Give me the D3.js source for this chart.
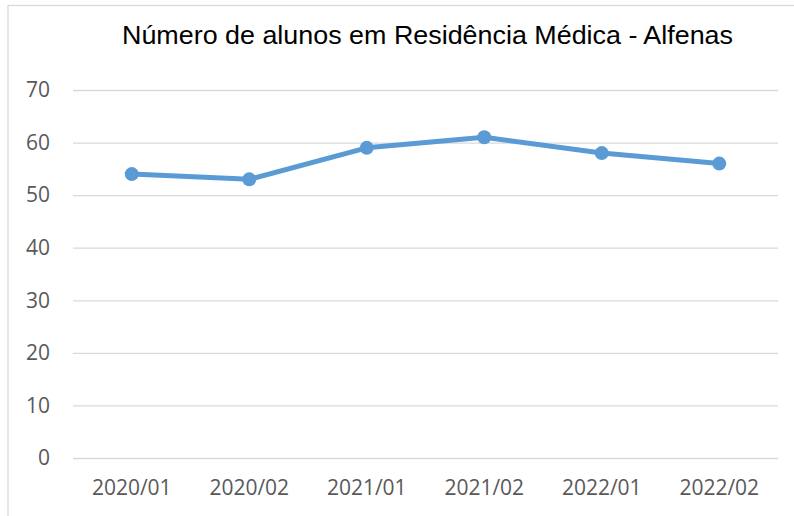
<!DOCTYPE html>
<html><head><meta charset="utf-8">
<script src="https://cdn.jsdelivr.net/npm/d3@7"></script>
<style>body{margin:0;background:#fff}</style>
</head><body>
<script>
const categories = ["2020/01","2020/02","2021/01","2021/02","2022/01","2022/02"];
const values = [54, 53, 59, 61, 58, 56];
const yTicks = [0,10,20,30,40,50,60,70];
const title = "Número de alunos em Residência Médica - Alfenas";

const W = 794, H = 516;
const m = {left:73, right:16, top:90, bottom:58};
const svg = d3.select("body").append("svg").attr("width",W).attr("height",H);

svg.append("rect").attr("x",8).attr("y",5.5).attr("width",W+10).attr("height",H+10)
  .attr("fill","#fff").attr("stroke","#d9d9d9").attr("stroke-width",1.3);

const x = d3.scaleBand().domain(categories).range([m.left, W-m.right]);
const y = d3.scaleLinear().domain([0,70]).range([H-m.bottom, m.top]);

const gy = svg.append("g").attr("transform",`translate(${m.left},0)`)
  .call(d3.axisLeft(y).tickValues(yTicks).tickSize(-(W-m.right-m.left)).tickPadding(23));
gy.select(".domain").remove();
gy.selectAll(".tick line").attr("stroke","#d9d9d9").attr("stroke-width",1.3);
gy.selectAll(".tick text").attr("fill","#595959").style("font-family","'Open Sans'").style("font-size","21px");

const gx = svg.append("g").attr("transform",`translate(0,${H-m.bottom})`)
  .call(d3.axisBottom(x).tickSize(0).tickPadding(22));
gx.select(".domain").remove();
gx.selectAll(".tick text").attr("fill","#595959").style("font-family","'Open Sans'").style("font-size","21px");

svg.append("text").attr("x",(m.left+W-m.right)/2+2).attr("y",44).attr("text-anchor","middle")
  .style("font-family","'Liberation Sans', Arial").style("font-size","25.5px").attr("fill","#000")
  .attr("textLength",611).attr("lengthAdjust","spacingAndGlyphs").text(title);

const line = d3.line().x((d,i)=>x(categories[i])+x.bandwidth()/2).y(d=>y(d));
svg.append("path").datum(values).attr("d",line).attr("fill","none")
  .attr("stroke","#5B9BD5").attr("stroke-width",5).attr("stroke-linejoin","round").attr("stroke-linecap","round");
svg.selectAll("circle.pt").data(values).enter().append("circle")
  .attr("cx",(d,i)=>x(categories[i])+x.bandwidth()/2).attr("cy",d=>y(d)).attr("r",7)
  .attr("fill","#5B9BD5");
</script>
</body></html>
